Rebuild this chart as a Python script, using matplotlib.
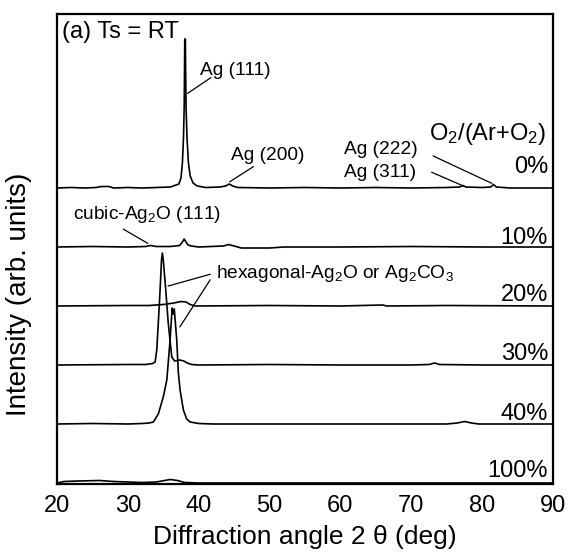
import matplotlib
matplotlib.use("Agg")
import matplotlib.pyplot as plt
import numpy as np

plt.rcParams['font.family'] = ['Liberation Sans', 'DejaVu Sans']
plt.rcParams['mathtext.fontset'] = 'custom'
plt.rcParams['mathtext.rm'] = 'Liberation Sans'
plt.rcParams['mathtext.it'] = 'Liberation Sans:italic'
plt.rcParams['mathtext.default'] = 'regular'

# ---- data (intensity in arb. units) ----
labels = ['0%', '10%', '20%', '30%', '40%', '100%']
offsets = [296, 237, 178, 119, 60, 1]

ang_0 = [20, 22, 24, 25.5, 26.3, 27.3, 28, 30, 32, 34, 36, 37.2, 37.5, 37.7, 37.85, 37.95,
         38.0, 38.03, 38.12, 38.15, 38.22, 38.35, 38.55, 38.8, 39.2, 39.8, 41, 43, 43.8,
         44.3, 44.8, 45.5, 50, 55, 60, 65, 70, 75, 76.8, 77.3, 77.7, 80, 81.2, 81.6, 82, 84, 90]
int_0 = [0, 0.5, 0, 0.5, 1.5, 1.5, 0, 0.5, 0, 0.5, 1, 4, 10, 25, 50, 80,
         120, 149, 149, 120, 80, 50, 25, 12, 5, 2, 0.5, 1, 2,
         4, 2, 0.5, 0, 0.5, 0, 0.5, 0, 0.5, 1, 2.5, 1, 0.5, 1, 3.5, 1, 0, 0]

ang_10 = [20, 25, 30, 32.5, 33.2, 34, 36, 37.3, 37.7, 37.95, 38.2, 38.5, 39, 40, 43.5,
          44.2, 45, 46, 50, 52, 60, 70, 80, 90]
int_10 = [0, 0.5, 0, 0.5, 1.5, 0.5, 0.5, 1.5, 5, 8, 5, 2, 1, 0, 1,
          2.5, 1, -1, -1, 0, 0, 0.5, 0, 0]

ang_20 = [20, 30, 33, 35, 36.5, 37.5, 38.2, 38.8, 39.5, 50, 60, 66, 66.5, 75, 90]
int_20 = [0, 0.5, 0.5, 1.5, 3, 4.5, 4, 1.5, 0, 0.5, 0, 1, 0, 0.5, 0]

ang_30 = [20, 30, 32.5, 33.5, 33.85, 34.08, 34.3, 34.55, 34.75, 34.87, 35.0, 35.35, 35.7,
          36.2, 36.6, 37.3, 37.9, 38.4, 39, 40, 50, 60, 70, 72.5, 73.3, 74, 80, 90]
int_30 = [0, 0.5, 0.5, 1.5, 3, 15, 42, 75, 105, 112, 105, 75, 42,
          8, 4, 5, 4, 2, 0.5, 0, 0.5, 0, 0, 0.5, 2, 0.5, 0, 0]

ang_40 = [20, 25, 30, 32, 33, 33.6, 34.3, 35.0, 35.5, 35.96, 36.25, 36.4, 36.55, 36.9,
          37.13, 37.37, 37.84, 38.3, 38.8, 40, 42, 50, 60, 75, 76.5, 77.5, 78.5, 79.5, 90]
int_40 = [0, 0.5, 0, 0.5, 1, 2, 10, 27, 44, 84, 116, 110, 115, 84,
          51, 34, 14, 5, 2, 0.5, 0, 0, 0, 0, 1, 2.5, 1, 0, 0]

ang_100 = [20, 21, 23, 26, 28, 30, 32, 34, 35.2, 36, 37, 38, 40, 60, 90]
int_100 = [0, 1.5, 2, 2.5, 1.5, 1, 0.5, 1, 2.5, 3.5, 2.5, 0.5, 0, 0, 0]

angles = [ang_0, ang_10, ang_20, ang_30, ang_40, ang_100]
intens = [int_0, int_10, int_20, int_30, int_40, int_100]

fig = plt.figure(figsize=(5.71, 5.56), dpi=100)
ax = fig.add_axes([0.0998, 0.1295, 0.8687, 0.8453])

for a, i, off in zip(angles, intens, offsets):
    ax.plot(a, np.array(i) + off, color='black', lw=1.2)

ax.set_xlim(20, 90)
ax.set_ylim(0, 470)
ax.set_xticks([20, 30, 40, 50, 60, 70, 80, 90])
ax.set_yticks([])
ax.tick_params(axis='x', length=0, labelsize=17, pad=8)
for s in ax.spines.values():
    s.set_linewidth(1.6)

ax.set_xlabel('Diffraction angle 2 θ (deg)', fontsize=19, labelpad=6)
ax.set_ylabel('Intensity (arb. units)', fontsize=20)
ax.yaxis.set_label_coords(-0.05, 0.404)

# sample labels
label_y = [311, 240, 183, 124, 64, 7]
for lab, ly in zip(labels, label_y):
    ax.text(89.3, ly, lab, ha='right', va='baseline', fontsize=17)

ax.text(89.1, 344, 'O$_2$/(Ar+O$_2$)', ha='right', va='baseline', fontsize=17)
ax.text(20.7, 446, '(a) Ts = RT', ha='left', va='baseline', fontsize=17)

pk = 13.8
ax.text(40.2, 409, 'Ag (111)', fontsize=pk, va='baseline')
ax.plot([41.7, 38.45], [406.3, 390.7], color='black', lw=0.9)
ax.text(44.56, 324, 'Ag (200)', fontsize=pk, va='baseline')
ax.plot([47.7, 44.4], [317.3, 302.3], color='black', lw=0.9)
ax.text(60.5, 330, 'Ag (222)', fontsize=pk, va='baseline')
ax.plot([73.1, 81.35], [328, 300.7], color='black', lw=0.9)
ax.text(60.5, 307.3, 'Ag (311)', fontsize=pk, va='baseline')
ax.plot([72.9, 77.35], [311.7, 298], color='black', lw=0.9)
ax.text(22.26, 264.7, 'cubic-Ag$_2$O (111)', fontsize=pk, va='baseline')
ax.plot([29.4, 32.8], [254.7, 240.7], color='black', lw=0.9)
ax.text(42.44, 205.7, 'hexagonal-Ag$_2$O or Ag$_2$CO$_3$', fontsize=pk, va='baseline')
ax.plot([41.6, 35.7], [209.7, 198], color='black', lw=0.9)
ax.plot([41.6, 37.36], [204, 157.3], color='black', lw=0.9)

fig.savefig('out.png', dpi=100)
